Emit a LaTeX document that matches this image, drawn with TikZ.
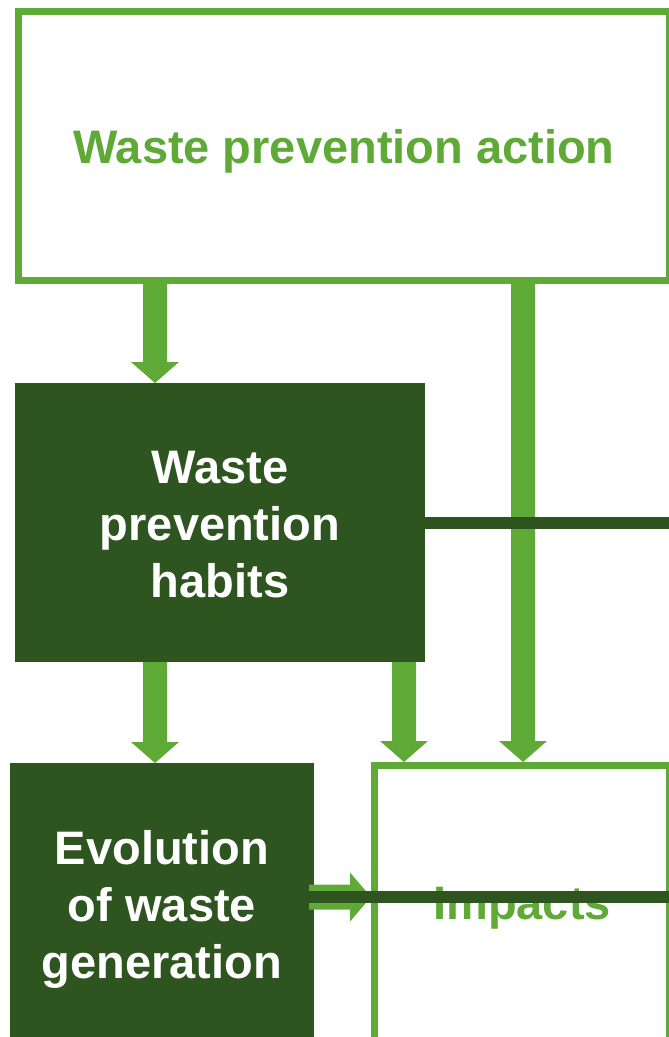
\documentclass[tikz,border=0pt]{standalone}
\usepackage{fontspec}
\setmainfont{Liberation Sans}
\usetikzlibrary{calc}
\definecolor{lgreen}{HTML}{5FAA37}
\definecolor{dgreen}{HTML}{2E5420}
\begin{document}
\begin{tikzpicture}[x=1pt,y=-1pt,
  lbl/.style={font=\fontsize{47}{57}\selectfont\bfseries, align=center},
  openbox/.style={draw=lgreen, line width=7pt, fill=white},
  darkbox/.style={fill=dgreen, outer sep=0pt},
  gtext/.style={lbl, text=lgreen},
  wtext/.style={lbl, text=white},
  dline/.style={draw=dgreen, line width=12pt},
  bdown/.style={to path={($(\tikztostart)+(-12,0)$) -- ($(\tikztotarget)+(-12,-21)$) -- ($(\tikztotarget)+(-24,-21)$) -- (\tikztotarget) -- ($(\tikztotarget)+(24,-21)$) -- ($(\tikztotarget)+(12,-21)$) -- ($(\tikztostart)+(12,0)$) -- cycle}},
  bright/.style={to path={($(\tikztostart)+(0,-12.5)$) -- ($(\tikztotarget)+(-21,-12.5)$) -- ($(\tikztotarget)+(-21,-24.5)$) -- (\tikztotarget) -- ($(\tikztotarget)+(-21,24.5)$) -- ($(\tikztotarget)+(-21,12.5)$) -- ($(\tikztostart)+(0,12.5)$) -- cycle}},
  barrow/.style={fill=lgreen}]
\useasboundingbox (0,0) rectangle (669,1037);
\clip (0,0) rectangle (669,1037);

\node[openbox, minimum width=651pt, minimum height=269pt] (act) at (344,146) {};
\node[openbox, minimum width=295pt, minimum height=279pt] (imp) at (522,905) {};
\node[darkbox, minimum width=410pt, minimum height=279pt] (hab) at (220,522.5) {};
\node[darkbox, minimum width=304pt, minimum height=284pt] (evo) at (162,905) {};

\node[gtext] (actt) at ($(act.center)+(0,5)$) {Waste prevention action};
\node[gtext] (impt) at ($(imp.center)+(0,3)$) {Impacts};
\node[wtext] (habt) at ($(hab.center)+(0,2)$) {Waste\\prevention\\habits};
\node[wtext] (evot) at ($(evo.center)+(0,4)$) {Evolution\\of waste\\generation};

\coordinate (a1t) at ($(hab.north)+(-65,0)$);
\coordinate (a1s) at (act.south -| a1t);
\coordinate (a2s) at ($(hab.south)+(-65,0)$);
\coordinate (a2t) at (a2s |- evo.north);
\coordinate (a3s) at ($(hab.south)+(184,0)$);
\coordinate (a3t) at (a3s |- imp.north);
\coordinate (a4t) at ($(imp.north)+(1,0)$);
\coordinate (a4s) at (a4t |- act.south);
\coordinate (a5s) at ($(evo.east)+(-5,-8)$);
\coordinate (a5t) at (a5s -| imp.west);
\coordinate (hr) at ($(hab.east)+(260,0)$);
\coordinate (er) at ($(a5t)+(310,0)$);

\fill[barrow] (a1s) to[bdown] (a1t);
\fill[barrow] (a2s) to[bdown] (a2t);
\fill[barrow] (a3s) to[bdown] (a3t);
\fill[barrow] (a4s) to[bdown] (a4t);
\fill[barrow] (a5s) to[bright] (a5t);

\draw[dline] (hab.east) -- (hr);
\draw[dline] (a5s) -- (er);
\end{tikzpicture}
\end{document}
